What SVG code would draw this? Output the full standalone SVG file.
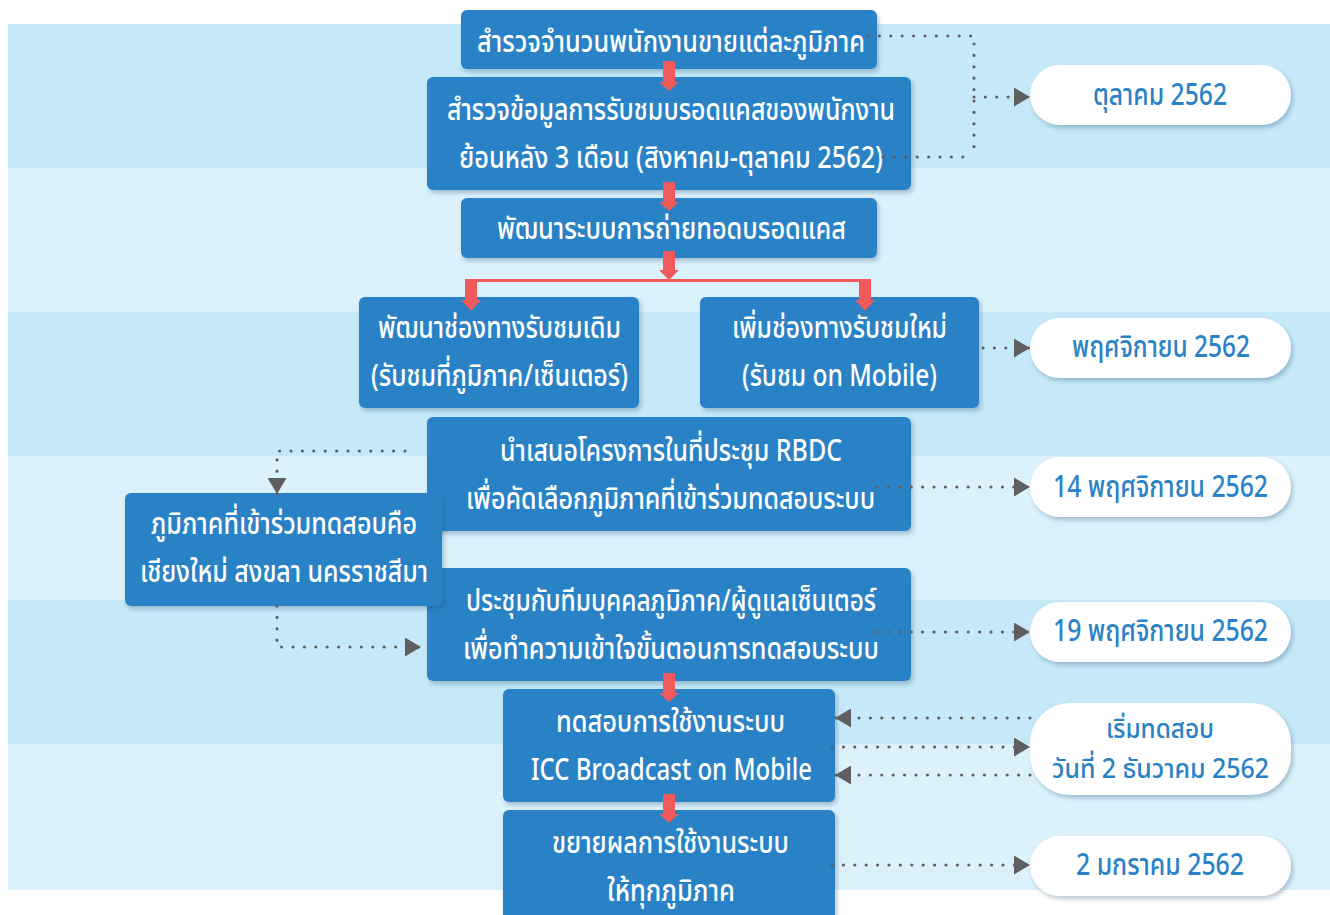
<svg xmlns="http://www.w3.org/2000/svg" width="1330" height="915" viewBox="0 0 1330 915">
<defs>
<filter id="sh" x="-10%" y="-20%" width="120%" height="150%">
<feDropShadow dx="2" dy="3" stdDeviation="2" flood-color="#1a4a6a" flood-opacity="0.3"/>
</filter>
<marker id="ah" viewBox="0 0 16 19" refX="16" refY="9.5" markerWidth="16" markerHeight="19" markerUnits="userSpaceOnUse" orient="auto">
<path d="M0,0 L16,9.5 L0,19 z" fill="#5f5f62"/>
</marker>
<style>
.box{fill:#2a82c6;filter:url(#sh)}
.pill{fill:#ffffff;filter:url(#sh)}
.t{font-family:"Noto Sans Thai","Noto Sans","DejaVu Sans",sans-serif;font-size:30px;font-weight:500;fill:#ffffff}
.p{font-family:"Noto Sans Thai","Noto Sans","DejaVu Sans",sans-serif;font-size:30px;font-weight:500;fill:#2a82c6}
.p2{font-size:27px}
.dot{fill:none;stroke:#5f5f62;stroke-width:3.2;stroke-linecap:round;stroke-dasharray:0 11.4}
.red{fill:#ef5a5c}
.redl{fill:none;stroke:#ef5a5c;stroke-width:3}
</style>
</defs>
<g id="background">
<rect x="8" y="24" width="1322" height="144" fill="#c5e9f8"/>
<rect x="8" y="168" width="1322" height="144" fill="#dbf1fc"/>
<rect x="8" y="312" width="1322" height="144" fill="#c5e9f8"/>
<rect x="8" y="456" width="1322" height="144" fill="#dbf1fc"/>
<rect x="8" y="600" width="1322" height="144" fill="#c5e9f8"/>
<rect x="8" y="744" width="1322" height="146" fill="#dbf1fc"/>
</g>
<g id="n1"><rect class="box" x="461" y="10" width="416" height="59" rx="6"/>
<text class="t" x="477" y="52" textLength="388" lengthAdjust="spacingAndGlyphs">สำรวจจำนวนพนักงานขายแต่ละภูมิภาค</text></g>
<g id="n2"><rect class="box" x="427" y="77" width="484" height="113" rx="6"/>
<text class="t" x="447" y="120" textLength="448" lengthAdjust="spacingAndGlyphs">สำรวจข้อมูลการรับชมบรอดแคสของพนักงาน</text>
<text class="t" x="459" y="168" textLength="424" lengthAdjust="spacingAndGlyphs">ย้อนหลัง 3 เดือน (สิงหาคม-ตุลาคม 2562)</text></g>
<g id="n3"><rect class="box" x="461" y="198" width="416" height="60" rx="6"/>
<text class="t" x="497" y="239" textLength="349" lengthAdjust="spacingAndGlyphs">พัฒนาระบบการถ่ายทอดบรอดแคส</text></g>
<g id="n4a"><rect class="box" x="359" y="297" width="280" height="111" rx="6"/>
<text class="t" x="378" y="338" textLength="243" lengthAdjust="spacingAndGlyphs">พัฒนาช่องทางรับชมเดิม</text>
<text class="t" x="371" y="386" textLength="257" lengthAdjust="spacingAndGlyphs">(รับชมที่ภูมิภาค/เซ็นเตอร์)</text></g>
<g id="n4b"><rect class="box" x="700" y="297" width="279" height="111" rx="6"/>
<text class="t" x="732" y="338" textLength="215" lengthAdjust="spacingAndGlyphs">เพิ่มช่องทางรับชมใหม่</text>
<text class="t" x="742" y="386" textLength="195" lengthAdjust="spacingAndGlyphs">(รับชม on Mobile)</text></g>
<g id="n5"><rect class="box" x="427" y="417" width="484" height="114" rx="6"/>
<text class="t" x="500" y="461" textLength="342" lengthAdjust="spacingAndGlyphs">นำเสนอโครงการในที่ประชุม RBDC</text>
<text class="t" x="466" y="509" textLength="409" lengthAdjust="spacingAndGlyphs">เพื่อคัดเลือกภูมิภาคที่เข้าร่วมทดสอบระบบ</text></g>
<g id="n7"><rect class="box" x="427" y="568" width="484" height="113" rx="6"/>
<text class="t" x="466" y="611" textLength="410" lengthAdjust="spacingAndGlyphs">ประชุมกับทีมบุคคลภูมิภาค/ผู้ดูแลเซ็นเตอร์</text>
<text class="t" x="463" y="659" textLength="416" lengthAdjust="spacingAndGlyphs">เพื่อทำความเข้าใจขั้นตอนการทดสอบระบบ</text></g>
<g id="n6"><rect class="box" x="125" y="493" width="317" height="113" rx="6"/>
<text class="t" x="151" y="534" textLength="266" lengthAdjust="spacingAndGlyphs">ภูมิภาคที่เข้าร่วมทดสอบคือ</text>
<text class="t" x="140" y="582" textLength="288" lengthAdjust="spacingAndGlyphs">เชียงใหม่ สงขลา นครราชสีมา</text></g>
<g id="n8"><rect class="box" x="503" y="689" width="332" height="113" rx="6"/>
<text class="t" x="556" y="732" textLength="229" lengthAdjust="spacingAndGlyphs">ทดสอบการใช้งานระบบ</text>
<text class="t" x="531" y="780" textLength="281" lengthAdjust="spacingAndGlyphs">ICC Broadcast on Mobile</text></g>
<g id="n9"><rect class="box" x="503" y="810" width="332" height="120" rx="6"/>
<text class="t" x="552" y="853" textLength="237" lengthAdjust="spacingAndGlyphs">ขยายผลการใช้งานระบบ</text>
<text class="t" x="607" y="901" textLength="128" lengthAdjust="spacingAndGlyphs">ให้ทุกภูมิภาค</text></g>
<g id="d1"><rect class="pill" x="1030" y="65" width="261" height="60" rx="30"/>
<text class="p" x="1093" y="105" textLength="134" lengthAdjust="spacingAndGlyphs">ตุลาคม 2562</text></g>
<g id="d2"><rect class="pill" x="1030" y="318" width="261" height="60" rx="30"/>
<text class="p" x="1072" y="357" textLength="178" lengthAdjust="spacingAndGlyphs">พฤศจิกายน 2562</text></g>
<g id="d3"><rect class="pill" x="1030" y="457" width="261" height="60" rx="30"/>
<text class="p" x="1053" y="497" textLength="215" lengthAdjust="spacingAndGlyphs">14 พฤศจิกายน 2562</text></g>
<g id="d4"><rect class="pill" x="1030" y="602" width="261" height="60" rx="30"/>
<text class="p" x="1053" y="641" textLength="215" lengthAdjust="spacingAndGlyphs">19 พฤศจิกายน 2562</text></g>
<g id="d5"><rect class="pill" x="1030" y="703" width="261" height="92" rx="40"/>
<text class="p p2" x="1106" y="738" textLength="108" lengthAdjust="spacingAndGlyphs">เริ่มทดสอบ</text>
<text class="p p2" x="1052" y="778" textLength="217" lengthAdjust="spacingAndGlyphs">วันที่ 2 ธันวาคม 2562</text></g>
<g id="d6"><rect class="pill" x="1030" y="836" width="261" height="60" rx="30"/>
<text class="p" x="1076" y="875" textLength="168" lengthAdjust="spacingAndGlyphs">2 มกราคม 2562</text></g>
<g id="connectors">
<polygon class="red" points="663,61 675,61 675,82 679,82 669,91 659,82 663,82"/>
<polygon class="red" points="663,182 675,182 675,202 679,202 669,211 659,202 663,202"/>
<polygon class="red" points="663,251 675,251 675,270 679,270 669,280 659,270 663,270"/>
<path class="redl" d="M471,280.5 H865"/>
<polygon class="red" points="465,279 477,279 477,300 481,300 471,311 461,300 465,300"/>
<polygon class="red" points="859,279 871,279 871,300 875,300 865,311 855,300 859,300"/>
<polygon class="red" points="663,673 675,673 675,693 679,693 669,702 659,693 663,693"/>
<polygon class="red" points="663,794 675,794 675,814 679,814 669,823 659,814 663,814"/>
<path class="dot" d="M868,36 H974 V157"/>
<path class="dot" d="M883,157 H974"/>
<path class="dot" d="M974,97 H1030" marker-end="url(#ah)"/>
<path class="dot" d="M983,348 H1030" marker-end="url(#ah)"/>
<path class="dot" d="M877,487 H1030" marker-end="url(#ah)"/>
<path class="dot" d="M877,632 H1030" marker-end="url(#ah)"/>
<path class="dot" d="M405,451 H277 V494" marker-end="url(#ah)"/>
<path class="dot" d="M277,606 V647 H421" marker-end="url(#ah)"/>
<path class="dot" d="M1030,718 H835" marker-end="url(#ah)"/>
<path class="dot" d="M832,747 H1030" marker-end="url(#ah)"/>
<path class="dot" d="M1030,775 H835" marker-end="url(#ah)"/>
<path class="dot" d="M832,865 H1030" marker-end="url(#ah)"/>
</g>
</svg>
